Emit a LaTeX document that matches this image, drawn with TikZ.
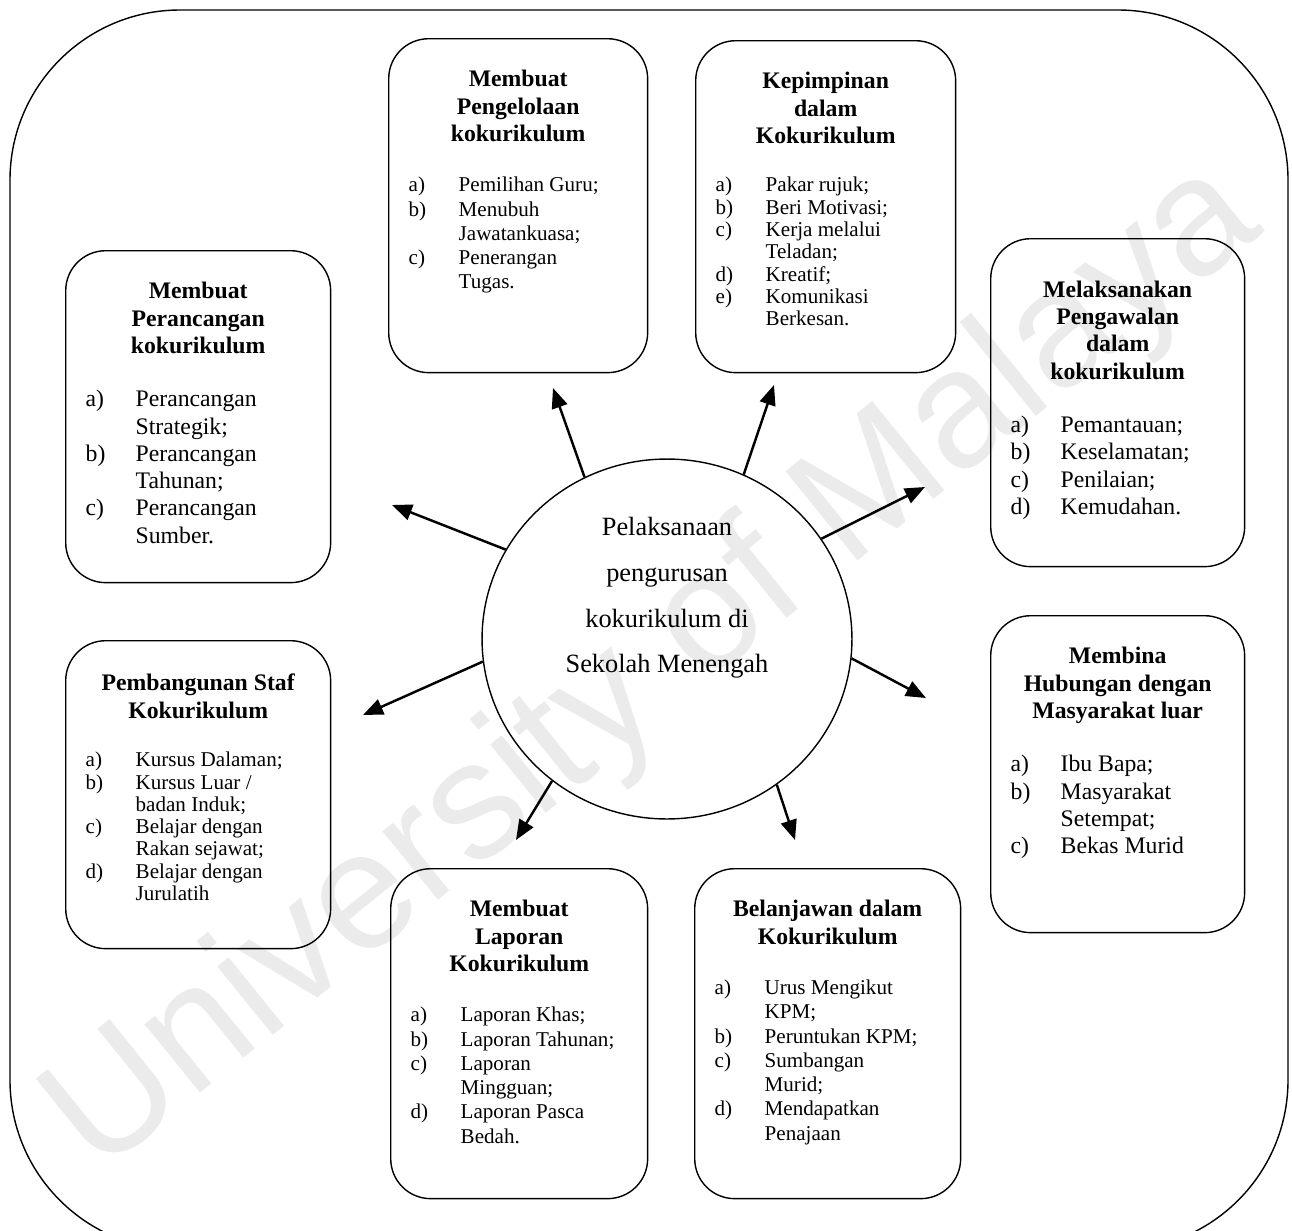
\documentclass[tikz,border=0pt]{standalone}
\usepackage{fontspec}
\setmainfont{Liberation Serif}
\newfontfamily\tandaair{Liberation Sans}
\usetikzlibrary{arrows.meta,shapes.geometric}

\newcommand{\kecil}{\fontsize{12}{13.8}\selectfont}
\newcommand{\rapat}{\fontsize{12}{12.7}\selectfont}
\newcommand{\besar}{\fontsize{13.5}{15.5}\selectfont}
\newcommand{\tajuk}[1]{{\centering\besar\bfseries #1\par}\vspace{15pt}\rightskip=0pt plus 1fil}
\newcommand{\butir}[2]{\hangindent=1cm\hangafter=1\noindent\makebox[1cm][l]{#1}#2\par}

\begin{document}
\begin{tikzpicture}[x=0.02cm, y=-0.02cm,
    kotak/.style={draw, thick, rounded corners=0.8cm, inner xsep=0.4cm, inner ysep=0pt, anchor=north west},
    bulat/.style={draw, thick, ellipse, minimum width=7.4cm, minimum height=7.2cm},
    panah/.style={line width=1.4pt, -{Triangle[length=0.4cm, width=0.32cm]}}]
  \useasboundingbox (0,0) rectangle (1292,1231);

  % watermark
  \node[rotate=39, text=black!8, font=\tandaair\fontsize{95}{95}\selectfont] (cap) at (655,670) {University of Malaya};

  % outer frame
  \draw[thick, rounded corners=3.4cm] (10,10) rectangle (1288,1250);

  % centre
  \node[bulat] (pusat) at (667,639) {};
  \node[align=center, font=\fontsize{15}{26}\selectfont] (judul) at (667,598)
    {Pelaksanaan\\pengurusan\\kokurikulum di\\Sekolah Menengah};

  % top row
  \node[kotak] (pengelolaan) at (388,38) {\parbox[c][6.68cm][t]{4.38cm}{\vspace*{18pt}%
    \tajuk{Membuat\\Pengelolaan\\kokurikulum}\kecil
    \butir{a)}{Pemilihan Guru;}
    \butir{b)}{Menubuh\newline Jawatankuasa;}
    \butir{c)}{Penerangan\newline Tugas.}}};
  \node[kotak] (kepimpinan) at (695,40) {\parbox[c][6.64cm][t]{4.4cm}{\vspace*{18pt}%
    \tajuk{Kepimpinan\\dalam\\Kokurikulum}\rapat
    \butir{a)}{Pakar rujuk;}
    \butir{b)}{Beri Motivasi;}
    \butir{c)}{Kerja melalui\newline Teladan;}
    \butir{d)}{Kreatif;}
    \butir{e)}{Komunikasi\newline Berkesan.}}};

  % left column
  \node[kotak] (perancangan) at (65,250) {\parbox[c][6.64cm][t]{4.5cm}{\vspace*{18pt}%
    \tajuk{Membuat\\Perancangan\\kokurikulum}\besar
    \butir{a)}{Perancangan\newline Strategik;}
    \butir{b)}{Perancangan\newline Tahunan;}
    \butir{c)}{Perancangan\newline Sumber.}}};
  \node[kotak] (staf) at (65,640) {\parbox[c][6.16cm][t]{4.5cm}{\vspace*{19pt}%
    \tajuk{Pembangunan Staf\\Kokurikulum}\rapat
    \butir{a)}{Kursus Dalaman;}
    \butir{b)}{Kursus Luar /\newline badan Induk;}
    \butir{c)}{Belajar dengan\newline Rakan sejawat;}
    \butir{d)}{Belajar dengan\newline Jurulatih}}};

  % right column
  \node[kotak] (pengawalan) at (990,238) {\parbox[c][6.56cm][t]{4.28cm}{\vspace*{24pt}%
    \tajuk{Melaksanakan\\Pengawalan\\dalam\\kokurikulum}\besar
    \butir{a)}{Pemantauan;}
    \butir{b)}{Keselamatan;}
    \butir{c)}{Penilaian;}
    \butir{d)}{Kemudahan.}}};
  \node[kotak] (hubungan) at (990,615) {\parbox[c][6.34cm][t]{4.28cm}{\vspace*{18pt}%
    \tajuk{Membina\\Hubungan dengan\\Masyarakat luar}\besar
    \butir{a)}{Ibu Bapa;}
    \butir{b)}{Masyarakat\newline Setempat;}
    \butir{c)}{Bekas Murid}}};

  % bottom row
  \node[kotak] (laporan) at (390,868) {\parbox[c][6.6cm][t]{4.34cm}{\vspace*{18pt}%
    \tajuk{Membuat\\Laporan\\Kokurikulum}\kecil
    \butir{a)}{Laporan Khas;}
    \butir{b)}{Laporan Tahunan;}
    \butir{c)}{Laporan\newline Mingguan;}
    \butir{d)}{Laporan Pasca\newline Bedah.}}};
  \node[kotak] (belanjawan) at (694,868) {\parbox[c][6.6cm][t]{4.52cm}{\vspace*{18pt}%
    \tajuk{Belanjawan dalam\\Kokurikulum}\kecil
    \butir{a)}{Urus Mengikut\newline KPM;}
    \butir{b)}{Peruntukan KPM;}
    \butir{c)}{Sumbangan\newline Murid;}
    \butir{d)}{Mendapatkan\newline Penajaan}}};

  % arrow tips
  \coordinate (h1) at (553,388);
  \coordinate (h2) at (774,385);
  \coordinate (h3) at (392,505);
  \coordinate (h4) at (925,487);
  \coordinate (h5) at (363,715);
  \coordinate (h6) at (926,698);
  \coordinate (h7) at (516,840);
  \coordinate (h8) at (795,840);

  \draw[panah] (pusat.117) -- (h1);
  \draw[panah] (pusat.65) -- (h2);
  \draw[panah] (pusat.151) -- (h3);
  \draw[panah] (pusat.33) -- (h4);
  \draw[panah] (pusat.187) -- (h5);
  \draw[panah] (pusat.-6) -- (h6);
  \draw[panah] (pusat.231) -- (h7);
  \draw[panah] (pusat.-53) -- (h8);
\end{tikzpicture}
\end{document}
